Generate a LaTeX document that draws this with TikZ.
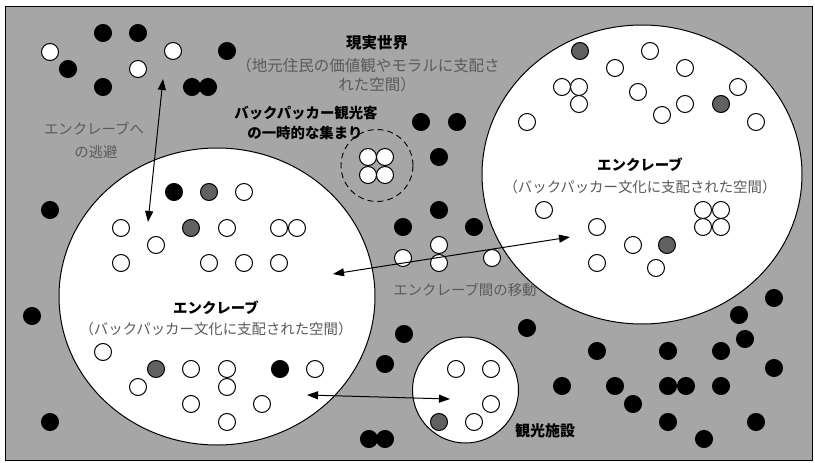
\documentclass[tikz,border=0pt]{standalone}
\usepackage{fontspec}
\newfontfamily\jp{Noto Sans CJK JP}
\usetikzlibrary{arrows.meta}
\definecolor{bg}{HTML}{A6A6A6}
\definecolor{dk}{HTML}{616161}
\definecolor{tx}{HTML}{5A5A5A}
\tikzset{
  frame/.style={draw=black, fill=bg, line width=0.8pt},
  area/.style={draw=black, fill=white, line width=1pt},
  wdot/.style={draw=black, fill=white, line width=1pt},
  bdot/.style={draw=black, fill=black, line width=1pt},
  gdot/.style={draw=black, fill=dk, line width=1pt},
  gathering/.style={draw=black, line width=0.9pt, dash pattern=on 6pt off 4pt},
  graytext/.style={text=tx, font=\jp\fontsize{14.4}{16}\selectfont, inner sep=0pt, anchor=base},
  boldtext/.style={text=black, font=\jp\bfseries\fontsize{14.4}{16}\selectfont, inner sep=0pt, anchor=base},
  conn/.style={{Triangle[length=11pt,width=8pt]}-{Triangle[length=11pt,width=8pt]}, line width=1pt, draw=black},
}
\begin{document}
\begin{tikzpicture}[x=1pt,y=-1pt]
\useasboundingbox (0,0) rectangle (815,463);
\draw[frame] (5,6) rectangle (812,460);
% areas
\draw[area] (217,296.5) ellipse [x radius=158pt, y radius=148.5pt];
\draw[area] (642,174.5) ellipse [x radius=160pt, y radius=149.5pt];
\draw[area] (465.5,390) circle (53pt);
\draw[gathering] (377,165.5) circle (36pt);
% black dots
\foreach \p in {(103,33),(138,33),(227,51),(68,69),(103,87),(192,87),(208,87),(50,210),(32,316),(50,422),
  (421,122),(457,122),(439,157),(439,210),(403,227),(474,227),
  (404,334),(385,364),(369,439),(385,439),(527,328),
  (774,298),(739,315),(745,339),(597,351),(668,351),(721,351),(774,368),(562,386),(615,386),(668,386),(686,386),(721,386),(633,404),(668,422),(756,422),(704,439),
  (174,192),(280,369)}
  \filldraw[bdot] \p circle (8.5pt);
% white dots
\foreach \p in {(50,52),(173,51),(138,69),
  (368,157),(385,157),(368,175),(385,175),
  (439,245),(403,258),(439,263),(492,258),
  (244,192),(121,228),(156,245),(227,228),(279,228),(297,228),(121,263),(209,263),(244,263),(279,263),
  (103,352),(191,369),(227,369),(315,369),(138,387),(227,387),(191,404),(262,404),(227,422),
  (456,369),(491,369),(491,404),(474,422),
  (650,51),(615,68),(685,68),(562,87),(579,87),(579,104),(638,92),(685,104),(662,115),(738,87),(756,122),(527,122),
  (544,210),(597,227),(633,245),(597,263),(656,268),(703,210),(721,210),(703,227),(721,227)}
  \filldraw[wdot] \p circle (8.5pt);
% gray dots
\foreach \p in {(209,192),(191,228),(156,369),(439,422),(580,51),(721,104),(667,245)}
  \filldraw[gdot] \p circle (8.5pt);
% texts
\node[boldtext, font=\jp\bfseries\fontsize{15.5}{16}\selectfont] (world) at (377,48.5) {現実世界};
\node[graytext, font=\jp\fontsize{15.5}{16}\selectfont] (worldsub1) at (368,71) {（地元住民の価値観やモラルに支配さ};
\node[graytext, font=\jp\fontsize{15.5}{16}\selectfont] (worldsub2) at (377,90) {れた空間）};
\node[boldtext] (bp1) at (306,118.5) {バックパッカー観光客};
\node[boldtext] (bp2) at (305,138) {の一時的な集まり};
\node[graytext] (esc1) at (94,134.5) {エンクレーブへ};
\node[graytext] (esc2) at (96,157) {の逃避};
\node[boldtext] (lt) at (216,313) {エンクレーブ};
\node[graytext] (ls) at (216,334) {（バックパッカー文化に支配された空間）};
\node[boldtext] (rt) at (640,170.5) {エンクレーブ};
\node[graytext] (rs) at (640,192.5) {（バックパッカー文化に支配された空間）};
\node[graytext] (mv) at (465,295.5) {エンクレーブ間の移動};
\node[boldtext, font=\jp\bfseries\fontsize{15}{16}\selectfont] (fac) at (545,436) {観光施設};
% connectors
\coordinate (a1) at (163,79);
\coordinate (a2) at (148,222);
\coordinate (b1) at (333,274);
\coordinate (b2) at (570,237);
\coordinate (c1) at (307,395);
\coordinate (c2) at (450,399);
\draw[conn] (a1) -- (a2);
\draw[conn] (b1) -- (b2);
\draw[conn] (c1) -- (c2);
\end{tikzpicture}
\end{document}
